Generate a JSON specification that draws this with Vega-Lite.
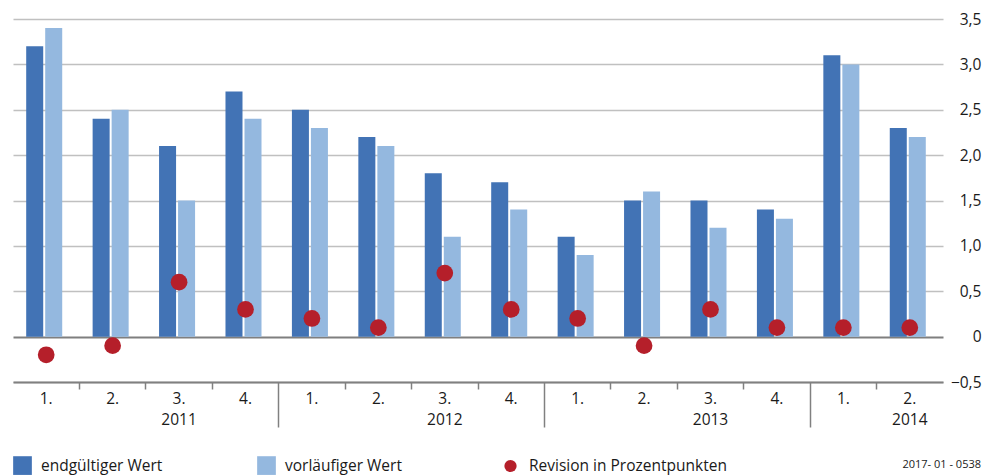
{
  "$schema": "https://vega.github.io/schema/vega-lite/v6.json",
  "width": 930,
  "height": 363,
  "autosize": {"type": "none"},
  "padding": {"left": 13, "top": 19, "right": 51, "bottom": 93},
  "config": {
    "view": {"stroke": null},
    "font": "Open Sans",
    "axis": {"labelFont": "Open Sans", "labelFontSize": 15.5, "labelColor": "#1a1a1a"},
    "legend": {"labelFont": "Open Sans", "labelFontSize": 15.5, "labelColor": "#1a1a1a"}
  },
  "title": {
    "text": "2017- 01 - 0538",
    "orient": "bottom",
    "anchor": "end",
    "fontSize": 11,
    "fontWeight": "normal",
    "color": "#1a1a1a",
    "dx": 0,
    "dy": -16,
    "offset": 0
  },
  "data": {
    "values": [
      {"q": "1. 2011", "series": "endgültiger Wert", "value": 3.2},
      {"q": "1. 2011", "series": "vorläufiger  Wert", "value": 3.4},
      {"q": "1. 2011", "series": "Revision in Prozentpunkten", "value": -0.2},
      {"q": "2. 2011", "series": "endgültiger Wert", "value": 2.4},
      {"q": "2. 2011", "series": "vorläufiger  Wert", "value": 2.5},
      {"q": "2. 2011", "series": "Revision in Prozentpunkten", "value": -0.1},
      {"q": "3. 2011", "series": "endgültiger Wert", "value": 2.1},
      {"q": "3. 2011", "series": "vorläufiger  Wert", "value": 1.5},
      {"q": "3. 2011", "series": "Revision in Prozentpunkten", "value": 0.6},
      {"q": "4. 2011", "series": "endgültiger Wert", "value": 2.7},
      {"q": "4. 2011", "series": "vorläufiger  Wert", "value": 2.4},
      {"q": "4. 2011", "series": "Revision in Prozentpunkten", "value": 0.3},
      {"q": "1. 2012", "series": "endgültiger Wert", "value": 2.5},
      {"q": "1. 2012", "series": "vorläufiger  Wert", "value": 2.3},
      {"q": "1. 2012", "series": "Revision in Prozentpunkten", "value": 0.2},
      {"q": "2. 2012", "series": "endgültiger Wert", "value": 2.2},
      {"q": "2. 2012", "series": "vorläufiger  Wert", "value": 2.1},
      {"q": "2. 2012", "series": "Revision in Prozentpunkten", "value": 0.1},
      {"q": "3. 2012", "series": "endgültiger Wert", "value": 1.8},
      {"q": "3. 2012", "series": "vorläufiger  Wert", "value": 1.1},
      {"q": "3. 2012", "series": "Revision in Prozentpunkten", "value": 0.7},
      {"q": "4. 2012", "series": "endgültiger Wert", "value": 1.7},
      {"q": "4. 2012", "series": "vorläufiger  Wert", "value": 1.4},
      {"q": "4. 2012", "series": "Revision in Prozentpunkten", "value": 0.3},
      {"q": "1. 2013", "series": "endgültiger Wert", "value": 1.1},
      {"q": "1. 2013", "series": "vorläufiger  Wert", "value": 0.9},
      {"q": "1. 2013", "series": "Revision in Prozentpunkten", "value": 0.2},
      {"q": "2. 2013", "series": "endgültiger Wert", "value": 1.5},
      {"q": "2. 2013", "series": "vorläufiger  Wert", "value": 1.6},
      {"q": "2. 2013", "series": "Revision in Prozentpunkten", "value": -0.1},
      {"q": "3. 2013", "series": "endgültiger Wert", "value": 1.5},
      {"q": "3. 2013", "series": "vorläufiger  Wert", "value": 1.2},
      {"q": "3. 2013", "series": "Revision in Prozentpunkten", "value": 0.3},
      {"q": "4. 2013", "series": "endgültiger Wert", "value": 1.4},
      {"q": "4. 2013", "series": "vorläufiger  Wert", "value": 1.3},
      {"q": "4. 2013", "series": "Revision in Prozentpunkten", "value": 0.1},
      {"q": "1. 2014", "series": "endgültiger Wert", "value": 3.1},
      {"q": "1. 2014", "series": "vorläufiger  Wert", "value": 3.0},
      {"q": "1. 2014", "series": "Revision in Prozentpunkten", "value": 0.1},
      {"q": "2. 2014", "series": "endgültiger Wert", "value": 2.3},
      {"q": "2. 2014", "series": "vorläufiger  Wert", "value": 2.2},
      {"q": "2. 2014", "series": "Revision in Prozentpunkten", "value": 0.1}
    ]
  },
  "encoding": {
    "y": {
      "field": "value",
      "type": "quantitative",
      "scale": {"domain": [-0.5, 3.5], "nice": false, "zero": false},
      "axis": {
        "orient": "right",
        "title": null,
        "values": [-0.5, 0, 0.5, 1, 1.5, 2, 2.5, 3, 3.5],
        "labelExpr": "datum.value == 0 ? '0' : replace(format(datum.value, '.1f'), '.', ',')",
        "labelAlign": "right",
        "labelPadding": 38,
        "ticks": false,
        "domain": false,
        "grid": true,
        "gridColor": {"condition": {"test": "datum.value == 0", "value": "#7f7f7f"}, "value": "#c0c0c0"},
        "gridWidth": {"condition": {"test": "datum.value == 0", "value": 2}, "value": 1.5}
      }
    },
    "color": {
      "field": "series",
      "type": "nominal",
      "scale": {
        "domain": ["endgültiger Wert", "vorläufiger  Wert", "Revision in Prozentpunkten"],
        "range": ["#4273b5", "#94b8df", "#b51f2a"]
      },
      "legend": {
        "title": null,
        "orient": "bottom",
        "direction": "horizontal",
        "columns": 3,
        "gridAlign": "all",
        "columnPadding": 18,
        "labelOffset": 9,
        "labelLimit": 400,
        "offset": -10,
        "symbolStrokeWidth": 0,
        "encode": {
          "symbols": {
            "update": {
              "shape": {"signal": "datum.label == 'Revision in Prozentpunkten' ? 'circle' : 'square'"},
              "size": {"signal": "datum.label == 'Revision in Prozentpunkten' ? 150 : 350"},
              "strokeWidth": {"value": 0}
            }
          }
        }
      }
    }
  },
  "layer": [
    {
      "transform": [{"filter": "datum.series != 'Revision in Prozentpunkten'"}],
      "mark": {"type": "bar"},
      "encoding": {
        "x": {
          "field": "q",
          "type": "nominal",
          "sort": null,
          "scale": {"paddingInner": 0, "paddingOuter": 0},
          "axis": {
            "orient": "bottom",
            "title": null,
            "labelAngle": 0,
            "labelExpr": "slice(datum.label, 0, 2)",
            "labelPadding": 9,
            "ticks": false,
            "domain": true,
            "domainColor": "#808080",
            "domainWidth": 2
          }
        },
        "xOffset": {
          "field": "series",
          "type": "nominal",
          "sort": ["endgültiger Wert", "vorläufiger  Wert"],
          "scale": {"paddingInner": 0.105, "paddingOuter": 0.8, "align": 0.434}
        }
      }
    },
    {
      "transform": [{"filter": "datum.series == 'Revision in Prozentpunkten'"}],
      "mark": {"type": "circle", "size": 280, "opacity": 1},
      "encoding": {
        "x": {
          "field": "q",
          "type": "nominal",
          "sort": null,
          "axis": {
            "orient": "bottom",
            "title": null,
            "labelAngle": 0,
            "bandPosition": 0,
            "values": ["2. 2011", "3. 2011", "4. 2011", "1. 2012", "2. 2012", "3. 2012", "4. 2012", "1. 2013", "2. 2013", "3. 2013", "4. 2013", "1. 2014", "2. 2014"],
            "labelExpr": "indexof(['3. 2011', '3. 2012', '3. 2013', '2. 2014'], datum.value) >= 0 ? slice(datum.value, 3) : ''",
            "labelPadding": 23,
            "labelAlign": "center",
            "ticks": true,
            "tickColor": "#808080",
            "tickWidth": 1.5,
            "tickSize": {"condition": {"test": "indexof(['1. 2012', '1. 2013', '1. 2014'], datum.value) >= 0", "value": 45}, "value": 7},
            "domain": false,
            "grid": false
          }
        }
      }
    }
  ],
  "resolve": {"axis": {"x": "independent"}}
}
